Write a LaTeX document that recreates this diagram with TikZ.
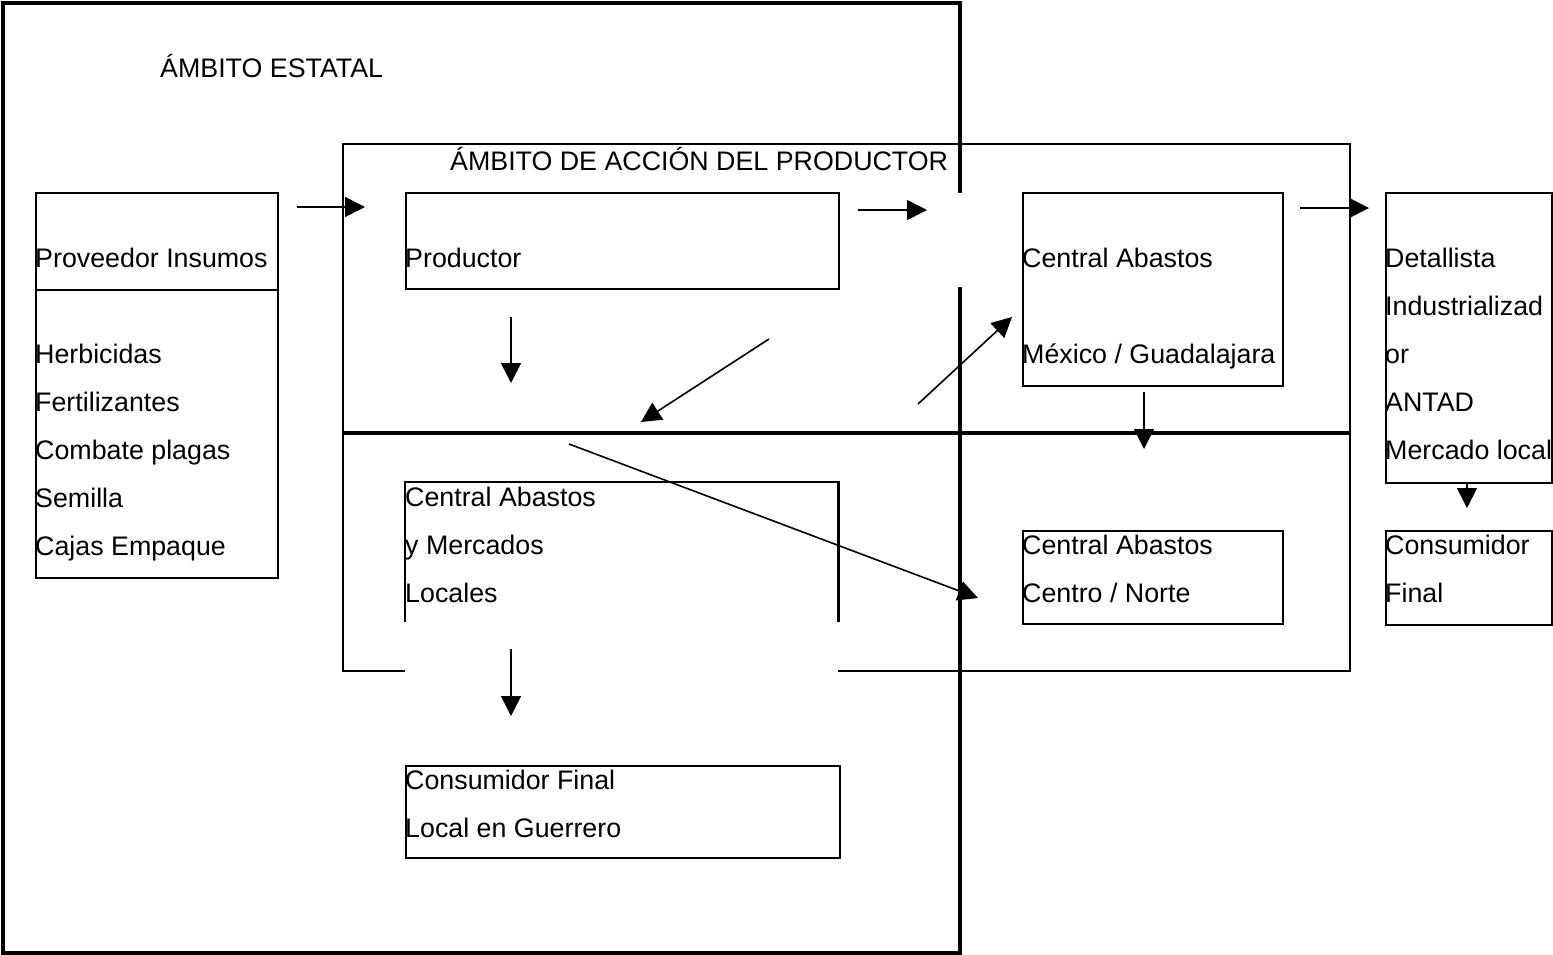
\documentclass[tikz,border=0pt]{standalone}
\usepackage{fontspec}
\setmainfont{Liberation Sans}
\usetikzlibrary{arrows.meta}

\begin{document}
\begin{tikzpicture}[x=1pt,y=-1pt,
    box/.style={draw,line width=2.2pt,inner sep=0pt,anchor=north west},
    lbl/.style={inner sep=0pt,anchor=base west,align=left,font=\fontsize{26.8}{48}\selectfont},
    flow/.style={-{Triangle[length=20pt,width=20pt]},line width=1.6pt}]
  \useasboundingbox (0,0) rectangle (1553,954);
  % ambito estatal y ambito del productor
  \draw[line width=4pt] (2.5,3) rectangle (960,952.5);
  \draw[line width=2.2pt] (343,144) rectangle (1350,671);
  \draw[line width=3.5pt] (343,433) -- (1350,433);
  \fill[white] (950,193) rectangle (970,287);
  \node[lbl] (estT) at (160,77) {ÁMBITO ESTATAL};
  \node[lbl] (prodAT) at (450,170) {ÁMBITO DE ACCIÓN DEL PRODUCTOR};
  % cajas
  \node[box,minimum width=242,minimum height=97] (provT) at (35,192) {};
  \node[box,minimum width=242,minimum height=288] (provL) at (35,289) {};
  \node[box,minimum width=433,minimum height=96] (prod) at (405,192) {};
  \node[box,minimum width=260,minimum height=193] (cmex) at (1022,192) {};
  \node[box,minimum width=166,minimum height=290] (det) at (1385,192) {};
  \node[fill=white,inner sep=0pt,anchor=north west,minimum width=433,minimum height=193] (cmer) at (405,482) {};
  \draw[line width=2.2pt] ([yshift=53pt]cmer.south west) |- (cmer.north east) -- ([yshift=53pt]cmer.south east);
  \node[box,minimum width=260,minimum height=93] (cnor) at (1022,530) {};
  \node[box,minimum width=166,minimum height=94] (cfin) at (1385,530) {};
  \node[box,minimum width=434,minimum height=92] (cgro) at (405,765) {};
  % textos (base = ultima linea)
  \node[lbl] (provTT) at (35,267) {Proveedor Insumos};
  \node[lbl] (provLT) at (35,555) {Herbicidas\\Fertilizantes\\Combate plagas\\Semilla\\Cajas Empaque};
  \node[lbl] (prodT) at (405,267) {Productor};
  \node[lbl] (cmexT) at (1022,363) {Central Abastos\\[48pt]México / Guadalajara};
  \node[lbl] (detT) at (1385,459) {Detallista\\Industrializad\\or\\ANTAD\\Mercado local};
  \node[lbl] (cmerT) at (405,602) {Central Abastos\\y Mercados\\Locales};
  \node[lbl] (cnorT) at (1022,602) {Central Abastos\\Centro / Norte};
  \node[lbl] (cfinT) at (1385,602) {Consumidor\\Final};
  \node[lbl] (cgroT) at (405,837) {Consumidor Final\\Local en Guerrero};
  % flechas
  \coordinate (ins1) at (297,207);  \coordinate (ins2) at (365,207);
  \coordinate (pca1) at (858,210);  \coordinate (pca2) at (927,210);
  \coordinate (det1) at (1300,208); \coordinate (det2) at (1369,208);
  \coordinate (loc1) at (511,317);  \coordinate (loc2) at (511,383);
  \coordinate (mer1) at (769,339);  \coordinate (mer2) at (641,422);
  \coordinate (mex1) at (918,404);  \coordinate (mex2) at (1012,317);
  \coordinate (cn1) at (1144,392);  \coordinate (cn2) at (1144,449);
  \coordinate (nor1) at (569,444);  \coordinate (nor2) at (978,598);
  \coordinate (gro1) at (511,649);  \coordinate (gro2) at (511,716);
  \coordinate (cf1) at (1467,483);  \coordinate (cf2) at (1467,508);
  \begin{scope}[flow]
    \draw (ins1) -- (ins2);
    \draw (pca1) -- (pca2);
    \draw (det1) -- (det2);
    \draw (loc1) -- (loc2);
    \draw (mer1) -- (mer2);
    \draw (mex1) -- (mex2);
    \draw (cn1) -- (cn2);
    \draw (nor1) -- (nor2);
    \draw (gro1) -- (gro2);
    \draw (cf1) -- (cf2);
  \end{scope}
\end{tikzpicture}
\end{document}
